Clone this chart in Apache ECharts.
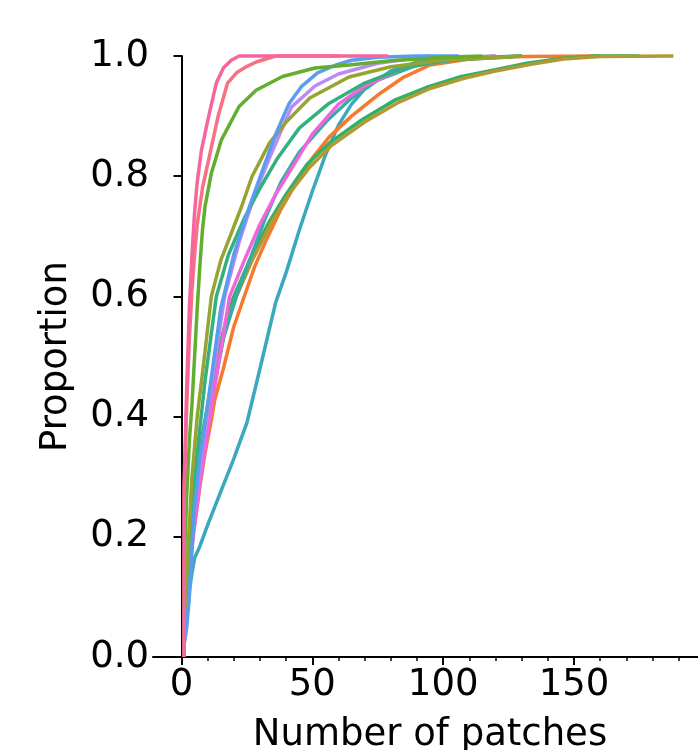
<!DOCTYPE html>
<html>
<head>
<meta charset="utf-8">
<script src="https://cdn.jsdelivr.net/npm/echarts@6/dist/echarts.min.js"></script>
<style>
html, body { margin: 0; padding: 0; background: #fff; }
#chart { width: 698px; height: 750px; }
</style>
</head>
<body>
<div id="chart"></div>
<script>
// ECDF curves, [number of patches, proportion]
const cyan = [[1,0],[1,.03],[2,.07],[3,.11],[4,.14],[5,.165],[7,.184],[10,.22],[15,.275],[20,.33],[25,.39],[30,.48],[36,.59],[40,.64],[45,.71],[50,.775],[55,.835],[60,.885],[65,.92],[70,.945],[80,.975],[90,.99],[100,.996],[120,1]];
const orange = [[1,0],[1,.06],[2,.12],[3,.17],[5,.22],[7,.283],[9,.34],[11.4,.394],[12.7,.428],[16,.48],[20,.55],[23.5,.594],[28,.65],[32.4,.694],[38,.745],[44,.79],[50,.83],[56.4,.865],[65,.9],[75,.935],[85,.965],[95,.985],[110,.995],[130,.999],[160,1]];
const seagreen = [[1,0],[1,.07],[2,.14],[3,.2],[5,.28],[8,.37],[12,.47],[17,.56],[20,.6],[26,.66],[33,.72],[40,.77],[48,.82],[56.4,.855],[69,.894],[81.7,.927],[94.4,.949],[107,.966],[120,.977],[132,.988],[145,.996],[158,1],[175,1]];
const golden = [[1,0],[1,.05],[2,.11],[3,.17],[5,.25],[8,.35],[12,.45],[17,.55],[21,.6],[27,.66],[34,.72],[41,.77],[49,.815],[57,.85],[70,.89],[83,.923],[95,.946],[108,.963],[120,.975],[133,.986],[146,.995],[160,.999],[188,1]];
const teal = [[1,0],[1,.05],[2,.1],[3,.15],[5,.23],[8,.33],[12,.44],[16,.53],[20.9,.6],[26,.66],[32,.73],[38,.79],[45,.84],[56,.894],[65,.93],[75,.96],[90,.985],[110,.997],[130,1]];
const magenta = [[1,0],[1,.04],[2,.09],[3,.14],[5,.22],[8,.32],[12,.43],[15,.51],[18.4,.6],[24,.66],[30,.72],[36,.77],[42.4,.815],[50,.87],[60,.92],[70,.95],[85,.98],[100,.993],[120,1]];
const lavender = [[1,0],[1,.05],[2,.1],[3,.16],[5,.25],[8,.35],[12,.47],[16.5,.6],[22,.69],[28,.77],[33.6,.83],[42,.915],[51,.95],[60,.97],[75,.988],[95,1]];
const tealgreen = [[1,0],[1,.05],[2,.12],[3,.19],[4,.25],[6,.34],[9,.46],[13.3,.6],[18,.67],[24,.73],[30,.78],[36.7,.83],[45,.88],[56,.92],[70,.955],[85,.98],[100,.992],[130,1]];
const olive = [[1,0],[1,.06],[2,.14],[3,.22],[4,.3],[6,.4],[8.5,.49],[11.4,.6],[15,.66],[19,.705],[23,.75],[27,.8],[33.6,.855],[40,.89],[49,.93],[64,.965],[80,.982],[100,.993],[130,1]];
const blue = [[1,0],[1,.02],[2,.05],[3,.1],[4,.18],[5,.25],[7,.33],[10,.42],[15,.58],[20,.67],[26,.75],[31,.81],[36,.87],[41,.92],[46,.95],[52,.972],[59,.985],[65,.993],[75,.998],[90,1],[106,1]];
const green = [[1,0],[1,.15],[2,.27],[3,.36],[4,.42],[5,.5],[6,.58],[7,.65],[8,.71],[9,.75],[11.4,.805],[15.2,.86],[22,.916],[28.5,.943],[38.6,.966],[51,.98],[64,.985],[80,.992],[100,.998],[115,1]];
const salmon = [[1,0],[1,.27],[2,.42],[3,.53],[4,.61],[5,.67],[6,.72],[8,.78],[10,.82],[12,.86],[14,.9],[17.6,.955],[21,.972],[24.7,.982],[28.5,.99],[36,1],[60,1]];
const pink = [[1,0],[1,.29],[2,.45],[3,.58],[4,.67],[5,.74],[6,.79],[7.6,.843],[10.4,.9],[13.3,.955],[16,.98],[19,.993],[22,1],[79,1]];

const curves = [cyan, orange, seagreen, golden, teal, magenta, lavender, tealgreen, olive, blue, green, salmon, pink];
const colors = ['#3aa9bd', '#f57a2e', '#33af66', '#b09a33', '#36ada4', '#f065dc', '#bb8af4', '#33b080', '#97a431', '#5a9df0', '#63ad2f', '#f77183', '#f5669f'];

const xTicks = [0, 50, 100, 150];
const xMinorTicks = [10, 20, 30, 40, 60, 70, 80, 90, 110, 120, 130, 140, 160, 170, 180, 190];
const X_MIN = -10.9, X_MAX = 197.4;

const chart = echarts.init(document.getElementById('chart'));
const font = 'DejaVu Sans';

chart.setOption({
  animation: false,
  backgroundColor: '#fff',
  grid: { left: 153, right: -3, top: 56, bottom: 93 },
  xAxis: [{
    type: 'value', min: X_MIN, max: X_MAX,
    axisLine: { show: true, lineStyle: { color: '#000', width: 2 } },
    axisTick: { show: true, length: 8, lineStyle: { color: '#000', width: 2 }, customValues: xTicks },
    axisLabel: { customValues: xTicks, fontSize: 37, fontFamily: font, color: '#000', margin: 10 },
    splitLine: { show: false }
  }, {
    type: 'value', min: X_MIN, max: X_MAX, position: 'bottom', gridIndex: 0,
    axisLine: { show: false },
    axisTick: { show: true, length: 4, lineStyle: { color: '#000', width: 1.5 }, customValues: xMinorTicks },
    axisLabel: { show: false },
    splitLine: { show: false }
  }],
  yAxis: {
    type: 'value', min: 0, max: 1, interval: 0.2, offset: -8,
    name: 'Proportion', nameLocation: 'middle', nameGap: 86,
    nameTextStyle: { fontSize: 37, fontFamily: font, color: '#000' },
    axisLine: { show: true, lineStyle: { color: '#000', width: 2 } },
    axisTick: { show: true, length: 8, lineStyle: { color: '#000', width: 2 } },
    axisLabel: { fontSize: 37, fontFamily: font, color: '#000', margin: 12, formatter: v => v.toFixed(1) },
    splitLine: { show: false }
  },
  graphic: [{
    type: 'text', x: 430, y: 735,
    style: { text: 'Number of patches', fontSize: 37, fontFamily: font, fill: '#000', align: 'center', verticalAlign: 'middle' }
  }],
  series: curves.map((d, i) => ({
    type: 'line',
    data: d,
    xAxisIndex: 0,
    showSymbol: false,
    clip: false,
    lineStyle: { color: colors[i], width: 3.5 },
    itemStyle: { color: colors[i] },
    emphasis: { disabled: true }
  }))
});
</script>
</body>
</html>
